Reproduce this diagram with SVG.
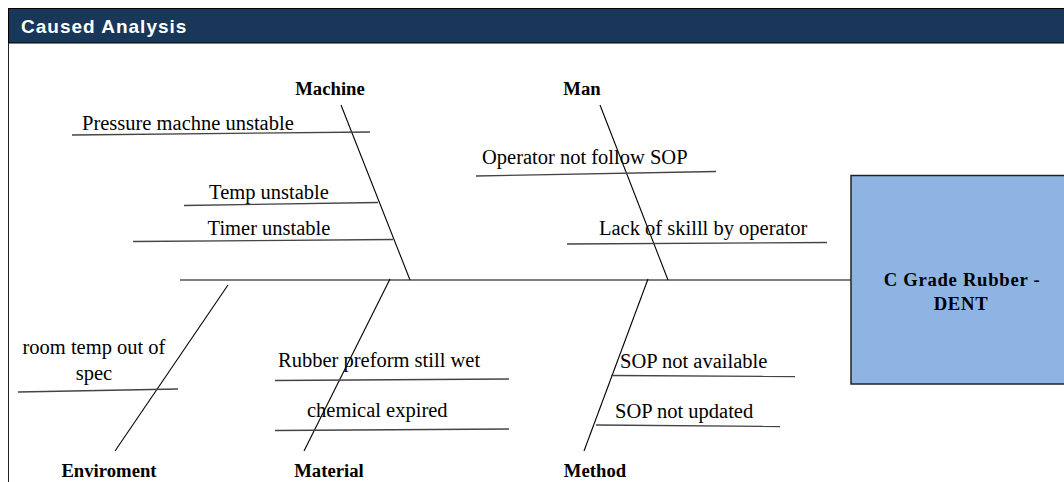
<svg xmlns="http://www.w3.org/2000/svg" width="1064" height="482" viewBox="0 0 1064 482">
<style>
.t{font-family:"Liberation Serif","Times New Roman",serif;font-size:20.5px;fill:#000}
.b{font-family:"Liberation Serif","Times New Roman",serif;font-size:18.7px;font-weight:bold;fill:#000}
.bone{stroke:#000;stroke-width:1.1;fill:none}
.sub{stroke:#444;stroke-width:1.3;fill:none}
</style>
<rect x="0" y="0" width="1064" height="482" fill="#fff"/>
<g id="header">
<rect x="8.5" y="8.5" width="1060" height="34.5" fill="#193759" stroke="#000" stroke-width="1"/>
<text x="21" y="33" font-family="'Liberation Sans',Arial,sans-serif" font-size="19" font-weight="bold" letter-spacing="1" fill="#fff">Caused Analysis</text>
</g>
<line x1="8.5" y1="43" x2="8.5" y2="482" stroke="#222" stroke-width="1"/>
<g id="connectors">
<line class="bone" x1="180" y1="280" x2="851" y2="280" stroke-width="1.5"/>
<line class="bone" x1="341" y1="105" x2="410" y2="280"/>
<line class="bone" x1="600" y1="105" x2="668" y2="280"/>
<line class="bone" x1="228" y1="285" x2="115" y2="451"/>
<line class="bone" x1="390" y1="279" x2="304" y2="451"/>
<line class="bone" x1="648" y1="279" x2="584" y2="451"/>
<line class="sub" x1="72" y1="135" x2="370" y2="132"/>
<line class="sub" x1="184" y1="205.5" x2="378" y2="202.5"/>
<line class="sub" x1="133" y1="241.5" x2="393" y2="239.5"/>
<line class="sub" x1="476" y1="176" x2="716" y2="171.5"/>
<line class="sub" x1="567" y1="244" x2="827" y2="242.5"/>
<line class="sub" x1="18" y1="392" x2="178" y2="389"/>
<line class="sub" x1="275" y1="380.5" x2="509" y2="379"/>
<line class="sub" x1="275" y1="430.5" x2="509" y2="429"/>
<line class="sub" x1="611" y1="375.5" x2="795" y2="376.5"/>
<line class="sub" x1="596" y1="425" x2="780" y2="426.5"/>
</g>
<g id="machine">
<text class="b" x="330" y="95" text-anchor="middle">Machine</text>
<text class="t" x="82" y="130">Pressure machne unstable</text>
<text class="t" x="269" y="199" text-anchor="middle">Temp unstable</text>
<text class="t" x="269" y="235" text-anchor="middle">Timer unstable</text>
</g>
<g id="man">
<text class="b" x="582" y="95" text-anchor="middle">Man</text>
<text class="t" x="482" y="164">Operator not follow SOP</text>
<text class="t" x="599" y="235">Lack of skilll by operator</text>
</g>
<g id="enviroment">
<text class="b" x="109" y="477" text-anchor="middle">Enviroment</text>
<text class="t" x="94" y="354" text-anchor="middle">room temp out of</text>
<text class="t" x="94" y="380" text-anchor="middle">spec</text>
</g>
<g id="material">
<text class="b" x="329" y="477" text-anchor="middle">Material</text>
<text class="t" x="278" y="367">Rubber preform still wet</text>
<text class="t" x="307" y="417">chemical expired</text>
</g>
<g id="method">
<text class="b" x="595" y="477" text-anchor="middle">Method</text>
<text class="t" x="620" y="368">SOP not available</text>
<text class="t" x="615" y="418">SOP not updated</text>
</g>
<g id="effect">
<rect x="851" y="175.5" width="220" height="208.5" fill="#8EB4E3" stroke="#222" stroke-width="1.5"/>
<text class="b" x="962" y="286" text-anchor="middle" font-size="21" letter-spacing="0.7">C Grade Rubber -</text>
<text class="b" x="961" y="310" text-anchor="middle" font-size="21" letter-spacing="0.7">DENT</text>
</g>
</svg>
